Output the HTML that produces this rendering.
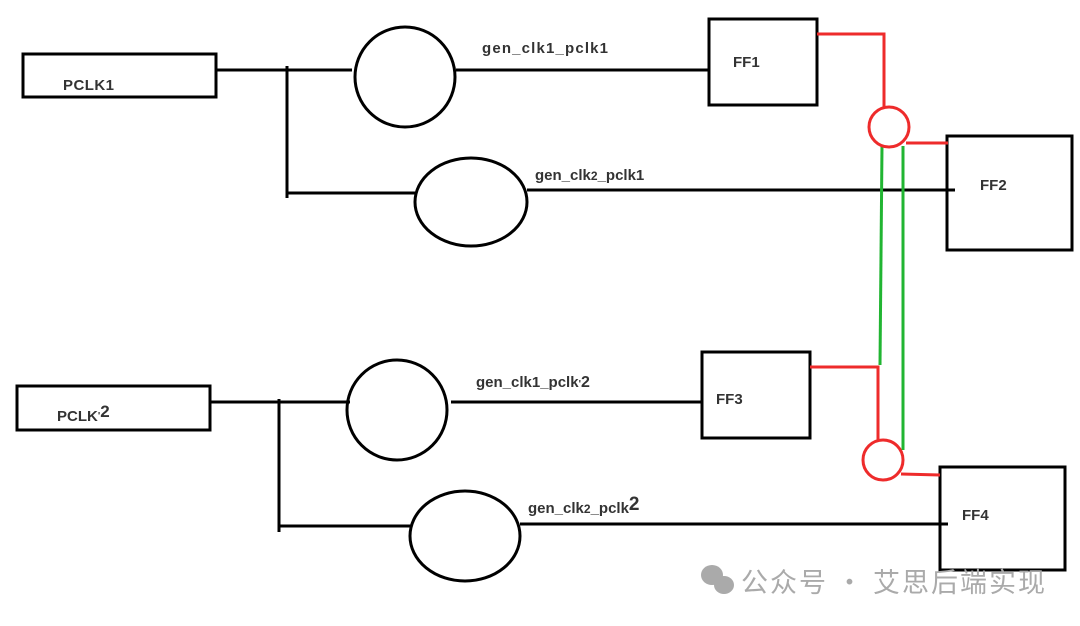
<!DOCTYPE html>
<html><head><meta charset="utf-8"><style>
html,body{margin:0;padding:0;background:#fff;width:1080px;height:626px;overflow:hidden}
text{font-family:"Liberation Sans",sans-serif;font-weight:bold;font-size:15px;fill:#333}
</style></head><body>
<svg width="1080" height="626" viewBox="0 0 1080 626" xmlns="http://www.w3.org/2000/svg">
<g fill="none" stroke="#000" stroke-width="3">
<rect x="23" y="54" width="193" height="43"/>
<line x1="216" y1="70" x2="352" y2="70"/>
<line x1="287" y1="66" x2="287" y2="198"/>
<ellipse cx="405" cy="77" rx="50" ry="50"/>
<line x1="456" y1="70" x2="708" y2="70"/>
<rect x="709" y="19" width="108" height="86"/>
<line x1="287" y1="193" x2="415" y2="193"/>
<ellipse cx="471" cy="202" rx="56" ry="44"/>
<line x1="527" y1="190" x2="955" y2="190"/>
<rect x="947" y="136" width="125" height="114"/>

<rect x="17" y="386" width="193" height="44"/>
<line x1="210" y1="402" x2="350" y2="402"/>
<line x1="279" y1="399" x2="279" y2="532"/>
<ellipse cx="397" cy="410" rx="50" ry="50"/>
<line x1="451" y1="402" x2="702" y2="402"/>
<rect x="702" y="352" width="108" height="86"/>
<line x1="280" y1="526" x2="411" y2="526"/>
<ellipse cx="465" cy="536" rx="55" ry="45"/>
<line x1="520" y1="524" x2="948" y2="524"/>
<rect x="940" y="467" width="125" height="103"/>
</g>
<g fill="none" stroke="#21b532" stroke-width="3">
<line x1="882" y1="146" x2="880" y2="365"/>
<line x1="903" y1="146" x2="903" y2="450"/>
</g>
<g fill="none" stroke="#ee2b2b" stroke-width="3">
<polyline points="817,34 884,34 884,108"/>
<circle cx="889" cy="127" r="20"/>
<line x1="906" y1="143" x2="948" y2="143"/>
<polyline points="810,367 878,367 878,440"/>
<circle cx="883" cy="460" r="20"/>
<line x1="901" y1="474" x2="940" y2="475"/>
</g>
<text x="63" y="90" textLength="51">PCLK1</text>
<text x="57" y="421">PCLK<tspan font-size="10" dy="-2">'</tspan><tspan font-size="17" dy="-2">2</tspan></text>
<text x="482" y="53" textLength="126">gen_clk1_pclk1</text>
<text x="535" y="180">gen_clk<tspan font-size="12">2</tspan>_pclk1</text>
<text x="476" y="387">gen_clk1_pclk<tspan font-size="10">'</tspan><tspan font-size="16">2</tspan></text>
<text x="528" y="513">gen_clk<tspan font-size="12">2</tspan>_pclk<tspan font-size="19" dy="-3">2</tspan></text>
<text x="733" y="67">FF1</text>
<text x="980" y="190">FF2</text>
<text x="716" y="404">FF3</text>
<text x="962" y="520">FF4</text>
<g fill="#aaa">
<ellipse cx="712" cy="575" rx="11" ry="10"/>
<ellipse cx="724" cy="585" rx="10" ry="9"/>
</g>
<text x="741" y="592" textLength="304" style="font-family:'Noto Sans CJK SC',sans-serif;font-weight:normal;font-size:27px;fill:#aaa">公众号 · 艾思后端实现</text>
</svg>
</body></html>
